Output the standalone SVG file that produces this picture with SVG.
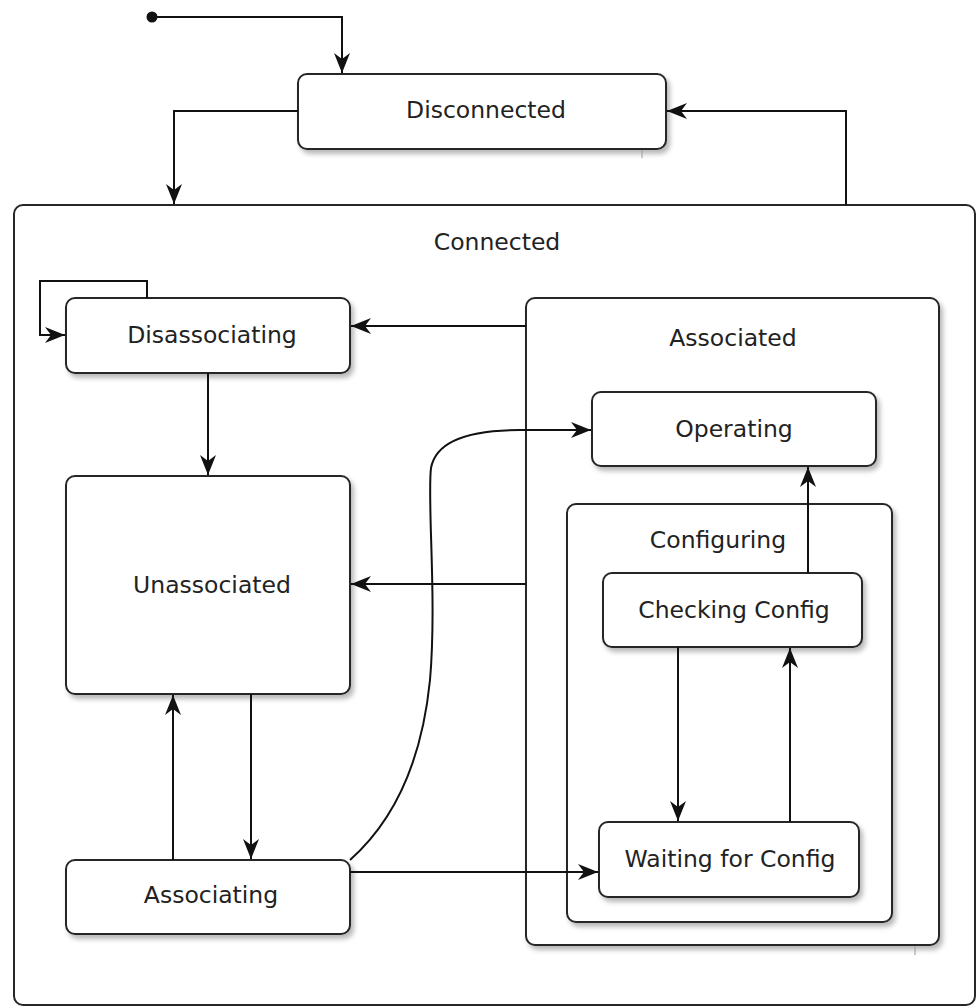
<svg xmlns="http://www.w3.org/2000/svg" width="977" height="1006" viewBox="0 0 977 1006">
  <style>
    .state { fill: #ffffff; stroke: #262626; stroke-width: 2; }
    .shadowed { filter: url(#shadow); }
    .label { font-family: "DejaVu Sans", Verdana, sans-serif; font-size: 23.5px; fill: #222222; text-anchor: middle; }
    .edge { fill: none; stroke: #111111; stroke-width: 2; marker-end: url(#arrow); }
    .tick { stroke: #9a9a9a; stroke-width: 1; }
  </style>
  <defs>
    <filter id="shadow" x="-10%" y="-10%" width="125%" height="130%">
      <feDropShadow dx="3" dy="4" stdDeviation="2.5" flood-color="#000000" flood-opacity="0.28"/>
    </filter>
    <!-- barbed arrowhead with a notched back -->
    <marker id="arrow" viewBox="0 0 20 16" refX="20" refY="8" markerWidth="20" markerHeight="16" markerUnits="userSpaceOnUse" orient="auto">
      <path d="M0,0 L20,8 L0,16 L6,8 Z" fill="#111111"/>
    </marker>
  </defs>

  <rect width="977" height="1006" fill="#ffffff"/>

  <!-- composite states -->
  <g id="connected">
    <rect class="state" x="14" y="205" width="961" height="800" rx="9"/>
    <text class="label" x="497" y="250">Connected</text>
  </g>
  <g id="associated">
    <rect class="state shadowed" x="526" y="298" width="413" height="647" rx="9"/>
    <text class="label" x="733" y="346">Associated</text>
    <line class="tick" x1="915" y1="946" x2="915" y2="955"/>
  </g>
  <g id="configuring">
    <rect class="state shadowed" x="567" y="504" width="325" height="418" rx="9"/>
    <text class="label" x="718" y="548">Configuring</text>
  </g>

  <!-- simple states -->
  <g id="initial">
    <circle cx="152" cy="17" r="5.5" fill="#111111"/>
  </g>
  <g id="disconnected">
    <rect class="state shadowed" x="298" y="74" width="368" height="75" rx="9"/>
    <text class="label" x="486" y="118">Disconnected</text>
    <line class="tick" x1="642" y1="150" x2="642" y2="158"/>
  </g>
  <g id="disassociating">
    <rect class="state shadowed" x="66" y="298" width="284" height="75" rx="9"/>
    <text class="label" x="212" y="343">Disassociating</text>
  </g>
  <g id="unassociated">
    <rect class="state shadowed" x="66" y="476" width="284" height="218" rx="9"/>
    <text class="label" x="212" y="593">Unassociated</text>
  </g>
  <g id="associating">
    <rect class="state shadowed" x="66" y="860" width="284" height="74" rx="9"/>
    <text class="label" x="211" y="903">Associating</text>
  </g>
  <g id="operating">
    <rect class="state shadowed" x="592" y="392" width="284" height="74" rx="9"/>
    <text class="label" x="734" y="437">Operating</text>
  </g>
  <g id="checking-config">
    <rect class="state shadowed" x="603" y="573" width="259" height="74" rx="9"/>
    <text class="label" x="734" y="618">Checking Config</text>
  </g>
  <g id="waiting-for-config">
    <rect class="state shadowed" x="599" y="822" width="260" height="75" rx="9"/>
    <text class="label" x="730" y="867">Waiting for Config</text>
  </g>

  <!-- transitions -->
  <g id="connectors">
    <path class="edge" d="M157,17 H342 V73"/>
    <path class="edge" d="M298,111 H174 V204"/>
    <path class="edge" d="M846,205 V111 H667"/>
    <path class="edge" d="M147,298 V281 H40 V335 H65"/>
    <path class="edge" d="M526,326 H351"/>
    <path class="edge" d="M208,373 V475"/>
    <path class="edge" d="M526,584 H351"/>
    <path class="edge" d="M251,694 V859"/>
    <path class="edge" d="M173,860 V695"/>
    <path class="edge" d="M350,872 H598"/>
    <path class="edge" d="M350,860 C395,820 422,760 430,680 C437,600 427,500 431,468 C436,440 472,430 520,430 H591"/>
    <path class="edge" d="M808,573 V467"/>
    <path class="edge" d="M678,647 V821"/>
    <path class="edge" d="M790,822 V648"/>
  </g>
</svg>
